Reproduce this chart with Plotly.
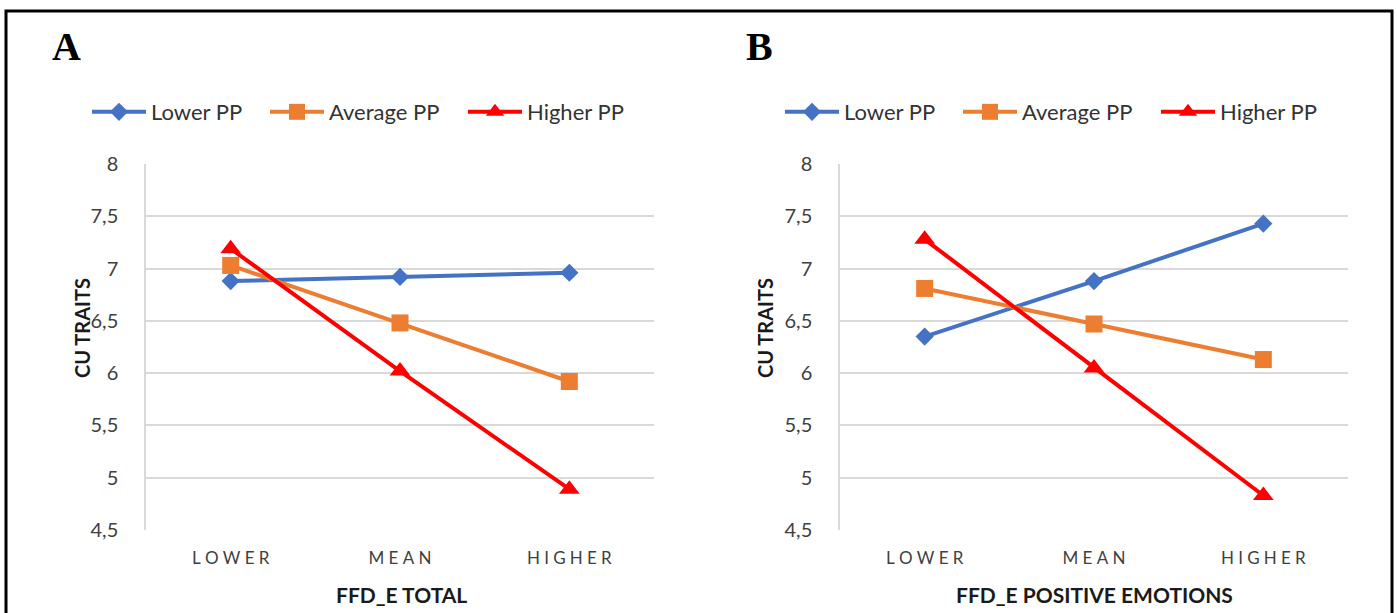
import plotly.graph_objects as go

categories = ["LOWER", "MEAN", "HIGHER"]
category_labels = ["L\u2005O\u2005W\u2005E\u2005R", "M\u2005E\u2005A\u2005N", "H\u2005I\u2005G\u2005H\u2005E\u2005R"]
series_names = ["Lower PP", "Average PP", "Higher PP"]

# Panel A: FFD_E TOTAL
a_lower_pp = [6.88, 6.92, 6.96]
a_average_pp = [7.03, 6.48, 5.92]
a_higher_pp = [7.19, 6.02, 4.89]

# Panel B: FFD_E POSITIVE EMOTIONS
b_lower_pp = [6.35, 6.88, 7.43]
b_average_pp = [6.81, 6.47, 6.13]
b_higher_pp = [7.28, 6.05, 4.83]

y_tickvals = [4.5, 5, 5.5, 6, 6.5, 7, 7.5, 8]
y_ticktext = ["4,5", "5", "5,5", "6", "6,5", "7", "7,5", "8"]

panel_letters = ["A", "B"]
x_titles = ["FFD_E TOTAL", "FFD_E POSITIVE EMOTIONS"]
y_title = "CU TRAITS"

colors = ["#4472C4", "#ED7D31", "#FF0000"]
symbols = ["diamond", "square", "triangle-up"]
msizes = [14, 17, 18]

W, H = 1397, 613
FONT = "Lato"


def px_x(p):
    return p / W


def px_y(p):
    return 1 - p / H


fig = go.Figure()

# legend line-start positions (px) per panel
legend_starts = [[92, 270, 468], [785, 963, 1161]]

panels = [
    ([a_lower_pp, a_average_pp, a_higher_pp], "x", "y"),
    ([b_lower_pp, b_average_pp, b_higher_pp], "x2", "y2"),
]
legend_layouts = {}
k = 0
for pi, (vals, xa, ya) in enumerate(panels):
    for si, (name, v, c, s, ms) in enumerate(zip(series_names, vals, colors, symbols, msizes)):
        k += 1
        lg = "legend" if k == 1 else f"legend{k}"
        fig.add_trace(go.Scatter(
            x=categories, y=v, name=name, mode="lines+markers",
            line=dict(color=c, width=4),
            marker=dict(symbol=s, size=ms, color=c, line=dict(width=0)),
            xaxis=xa, yaxis=ya, legend=lg, cliponaxis=False,
        ))
        legend_layouts[lg] = dict(
            orientation="h", x=px_x(legend_starts[pi][si] - 5), y=px_y(112),
            xanchor="left", yanchor="middle", itemwidth=54,
            font=dict(family=FONT, size=22, color="#333333"),
            bgcolor="rgba(0,0,0,0)", borderwidth=0,
            itemclick=False, itemdoubleclick=False,
        )

ydom = [px_y(530), px_y(164)]
axis_common_x = dict(
    type="category", range=[-0.5, 2.5], showgrid=False, showline=False,
    zeroline=False, ticks="", tickfont=dict(family=FONT, size=17, color="#404040"),
    ticktext=category_labels, tickvals=categories, ticklabelstandoff=16,
    automargin=False, fixedrange=True,
)
axis_common_y = dict(
    range=[4.5, 8], tickvals=y_tickvals, ticktext=y_ticktext,
    showgrid=True, gridcolor="#D9D9D9", gridwidth=1.5,
    showline=True, linecolor="#D9D9D9", linewidth=1.5,
    zeroline=False, ticks="", tickfont=dict(family=FONT, size=20, color="#404040"),
    ticklabelstandoff=22, automargin=False, fixedrange=True,
)

fig.update_layout(
    template="none",
    width=W, height=H,
    margin=dict(l=0, r=0, t=0, b=0),
    paper_bgcolor="white", plot_bgcolor="white",
    xaxis=dict(domain=[px_x(146), px_x(654)], anchor="y", **axis_common_x),
    yaxis=dict(domain=ydom, anchor="x", **axis_common_y),
    xaxis2=dict(domain=[px_x(840), px_x(1348)], anchor="y2", **axis_common_x),
    yaxis2=dict(domain=ydom, anchor="x2", **axis_common_y),
    showlegend=True,
    **legend_layouts,
)

annotations = []
for letter, xp in zip(panel_letters, [50, 744]):
    annotations.append(dict(
        text=f"<b>{letter}</b>", x=px_x(xp), y=px_y(46), xref="paper", yref="paper",
        xanchor="left", yanchor="middle", showarrow=False,
        font=dict(family="Liberation Serif", size=40, color="black"),
    ))
for title, xc in zip(x_titles, [401, 1094]):
    annotations.append(dict(
        text=f"<b>{title}</b>", x=px_x(xc), y=px_y(594), xref="paper", yref="paper",
        xanchor="center", yanchor="middle", showarrow=False,
        font=dict(family=FONT, size=21, color="#1a1a1a"),
    ))
for xc in [82, 765]:
    annotations.append(dict(
        text=f"<b>{y_title}</b>", x=px_x(xc), y=px_y(328), xref="paper", yref="paper",
        xanchor="center", yanchor="middle", showarrow=False, textangle=-90,
        font=dict(family=FONT, size=20, color="#1a1a1a"),
    ))
fig.update_layout(annotations=annotations)

fig.add_shape(type="rect", xref="paper", yref="paper",
              x0=px_x(6), x1=px_x(1392), y0=-0.2, y1=px_y(11),
              line=dict(color="black", width=3), fillcolor="rgba(0,0,0,0)", layer="above")

fig.write_html(
    "out.html",
    config={"displayModeBar": False},
    post_script="document.body.style.margin='0';document.body.style.overflow='hidden';",
)
